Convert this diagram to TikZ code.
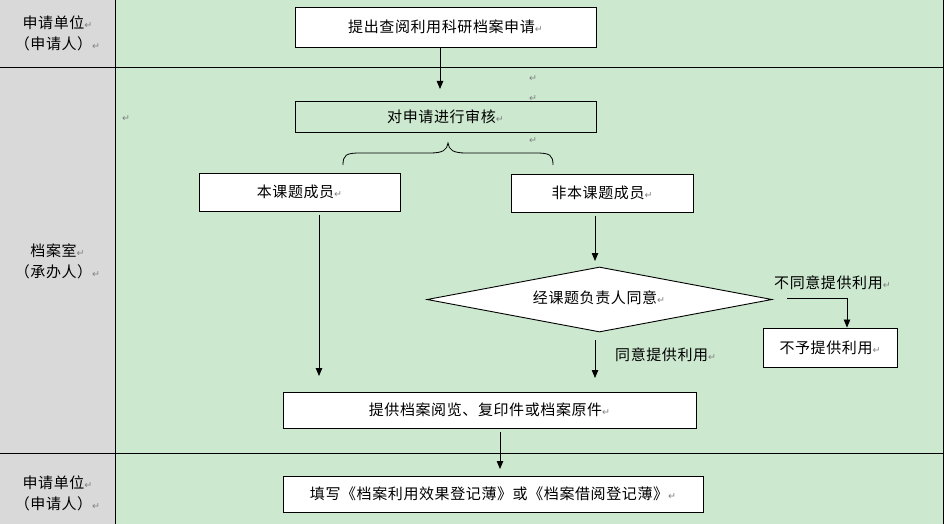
\documentclass[tikz,border=0pt]{standalone}
\usepackage{fontspec}
\setmainfont{Noto Sans CJK SC}[LetterSpace=4]
\newfontfamily\symfont{DejaVu Sans}
\usetikzlibrary{arrows.meta,shapes.geometric}
\definecolor{lanegreen}{RGB}{204,232,207}
\definecolor{lanegray}{RGB}{217,217,217}
\definecolor{markgray}{RGB}{130,130,130}
\newcommand\parmark{{\symfont\color{markgray}\fontsize{9.5}{9.5}\selectfont ↵}}
\tikzset{
  txt/.style={font=\fontsize{15}{21}\selectfont, inner sep=0pt},
  wbox/.style={draw, line width=0.9pt, fill=white, txt},
  gbox/.style={draw, line width=0.9pt, txt},
  arr/.style={line width=0.8pt, -{Triangle[length=8pt,width=6.5pt]}},
  lanetxt/.style={txt, align=center},
  stray/.style={inner sep=0pt}
}
\begin{document}
\begin{tikzpicture}[x=1pt,y=-1pt]
\useasboundingbox (0,0) rectangle (944,524);
% lanes
\fill[lanegray] (0,0) rectangle (115,524);
\fill[lanegreen] (115,0) rectangle (944,524);
\draw[line width=0.9pt] (115,0) -- (115,524);
\draw[line width=0.9pt] (0,67) -- (944,67);
\draw[line width=0.9pt] (0,453) -- (944,453);
\draw[line width=0.9pt] (943.5,0) -- (943.5,524);
% lane labels
\node[lanetxt] (l1) at (57.5,33) {申请单位\parmark\\（申请人）\parmark};
\node[lanetxt] (l2) at (57.5,261.5) {档案室\parmark\\（承办人）\parmark};
\node[lanetxt] (l3) at (57.5,493) {申请单位\parmark\\（申请人）\parmark};
% stray paragraph marks
\node[stray] (s1) at (533,79) {\parmark};
\node[stray] (s2) at (533,99) {\parmark};
\node[stray] (s3) at (533,141) {\parmark};
\node[stray] (s4) at (126,119) {\parmark};
% boxes
\node[wbox, minimum width=301pt, minimum height=40pt] (b1) at (445.5,27) {提出查阅利用科研档案申请\parmark};
\node[gbox, minimum width=301pt, minimum height=31pt] (b2) at (445.5,116.5) {对申请进行审核\parmark};
\node[wbox, minimum width=201pt, minimum height=38pt] (b3) at (299.5,192) {本课题成员\parmark};
\node[wbox, minimum width=182pt, minimum height=38pt] (b4) at (602,193) {非本课题成员\parmark};
\node[draw, line width=0.9pt, fill=white, diamond, minimum width=345pt, minimum height=65pt, inner sep=0pt] (d) at (599.5,299.5) {};
\node[txt] (dt) at (599,298) {经课题负责人同意\parmark};
\node[wbox, minimum width=134pt, minimum height=39pt] (no) at (830,347.5) {不予提供利用\parmark};
\node[wbox, minimum width=413pt, minimum height=36pt] (b5) at (489.5,410) {提供档案阅览、复印件或档案原件\parmark};
\node[wbox, minimum width=420pt, minimum height=36pt] (b6) at (493,494) {填写《档案利用效果登记薄》或《档案借阅登记薄》\parmark};
% edge labels
\node[txt, anchor=west] (lyes) at (615,355) {同意提供利用\parmark};
\node[txt, anchor=west] (lno) at (774,283) {不同意提供利用\parmark};
% arrow end points
\coordinate (e1) at (440,89);
\coordinate (e2) at (319,376);
\coordinate (e3) at (595,261);
\coordinate (e4s) at (595,340);
\coordinate (e4) at (595,378);
\coordinate (e5s) at (787,298);
\coordinate (e6) at (500,469);
% arrows
\draw[arr] (b1.south -| e1) -- (e1);
\draw[arr] ([yshift=-4pt]b3.south -| e2) -- (e2);
\draw[arr] ([yshift=-4pt]b4.south -| e3) -- (e3);
\draw[arr] (e4s) -- (e4);
\draw[arr] (e5s) -| (no.north -| 847,0);
\draw[arr] ([yshift=-4pt]b5.south -| e6) -- (e6);
% brace
\draw[line width=0.8pt] (343,165) .. controls (343,155) and (346,153) .. (360,153) -- (430,153)
  .. controls (443,153) and (447,150) .. (448,143)
  .. controls (449,150) and (453,153) .. (466,153) -- (536,153)
  .. controls (550,153) and (553,155) .. (553,165);
\end{tikzpicture}
\end{document}
